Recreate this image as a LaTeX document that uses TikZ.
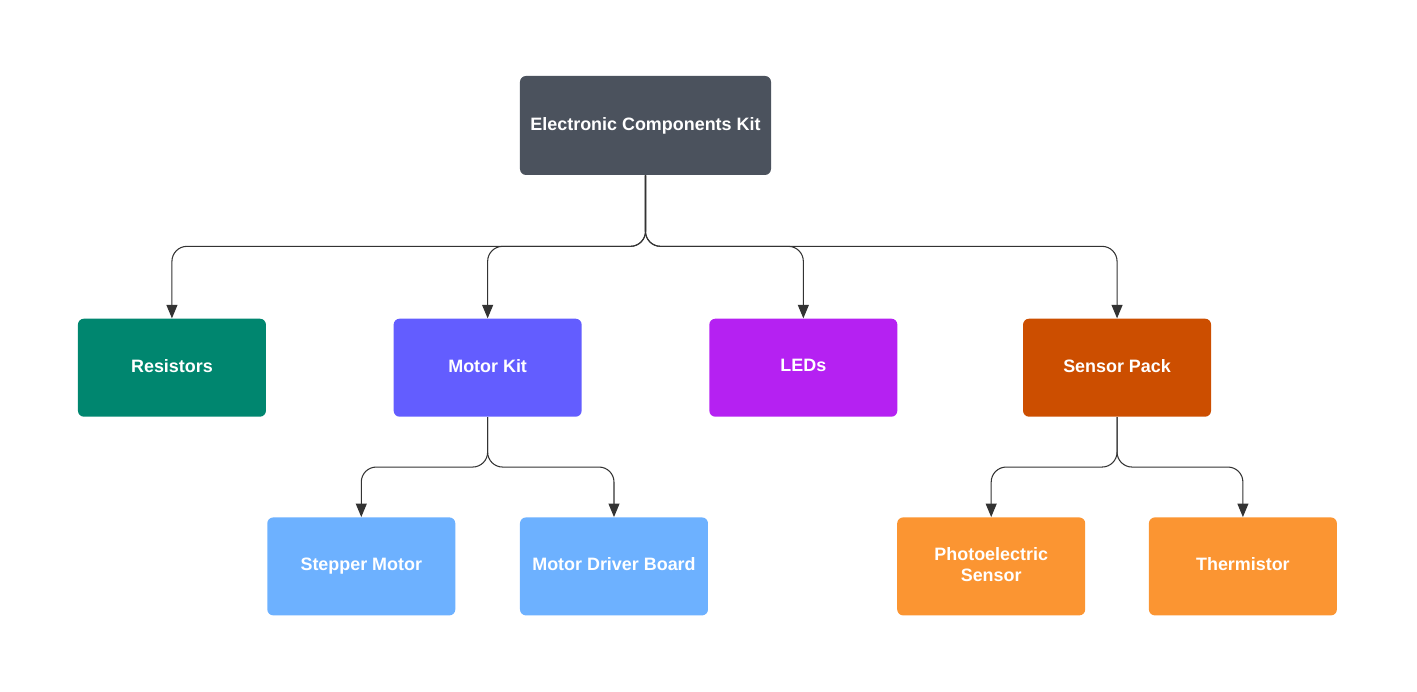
\documentclass[tikz,border=0pt]{standalone}
\usepackage{fontspec}
\setmainfont{Liberation Sans}
\usepackage{xcolor}
\usetikzlibrary{arrows.meta,positioning}

\definecolor{rootgray}{HTML}{4B525D}
\definecolor{teal}{HTML}{00866F}
\definecolor{violet}{HTML}{635DFF}
\definecolor{purple}{HTML}{B521F2}
\definecolor{rust}{HTML}{CC4E00}
\definecolor{skyblue}{HTML}{6DB1FF}
\definecolor{orange}{HTML}{FB9532}
\definecolor{wire}{HTML}{333333}

\begin{document}
\begin{tikzpicture}[
  font=\fontsize{10.2}{12}\selectfont\bfseries,
  box/.style={rounded corners=0.12cm, text=white, align=center, inner sep=2pt,
    text depth=0.22em, minimum width=3.76cm, minimum height=1.96cm},
  arr/.style={-{Triangle[length=2.7mm, width=2.2mm]}, draw=wire, line width=0.6pt, rounded corners=0.3cm},
  node distance=2.88cm and 2.54cm
]
\useasboundingbox (-12.91,2.51) rectangle (15.43,-11.33);
\node[box, fill=rootgray, minimum width=5.02cm, minimum height=1.98cm] (root) at (0,0) {Electronic Components Kit};
\node[box, fill=violet, below left=2.86cm and 1.27cm of root.south, anchor=north east] (motor) {Motor Kit};
\node[box, fill=teal, left=2.54cm of motor] (resistors) {Resistors};
\node[box, fill=purple, right=2.54cm of motor] (leds) {LEDs};
\node[box, fill=rust, right=2.5cm of leds] (sensors) {Sensor Pack};
\node[box, fill=skyblue, below left=2cm and 0.64cm of motor.south, anchor=north east] (stepper) {Stepper Motor};
\node[box, fill=skyblue, right=1.28cm of stepper] (driver) {Motor Driver Board};
\node[box, fill=orange, below left=2cm and 0.63cm of sensors.south, anchor=north east] (photo) {Photoelectric\\Sensor};
\node[box, fill=orange, right=1.26cm of photo] (thermistor) {Thermistor};
\draw[arr] (root.south) -- ++(0,-1.42) -| (resistors.north);
\draw[arr] (root.south) -- ++(0,-1.42) -| (motor.north);
\draw[arr] (root.south) -- ++(0,-1.42) -| (leds.north);
\draw[arr] (root.south) -- ++(0,-1.42) -| (sensors.north);
\draw[arr] (motor.south) -- ++(0,-1) -| (stepper.north);
\draw[arr] (motor.south) -- ++(0,-1) -| (driver.north);
\draw[arr] (sensors.south) -- ++(0,-1) -| (photo.north);
\draw[arr] (sensors.south) -- ++(0,-1) -| (thermistor.north);
\end{tikzpicture}
\end{document}
